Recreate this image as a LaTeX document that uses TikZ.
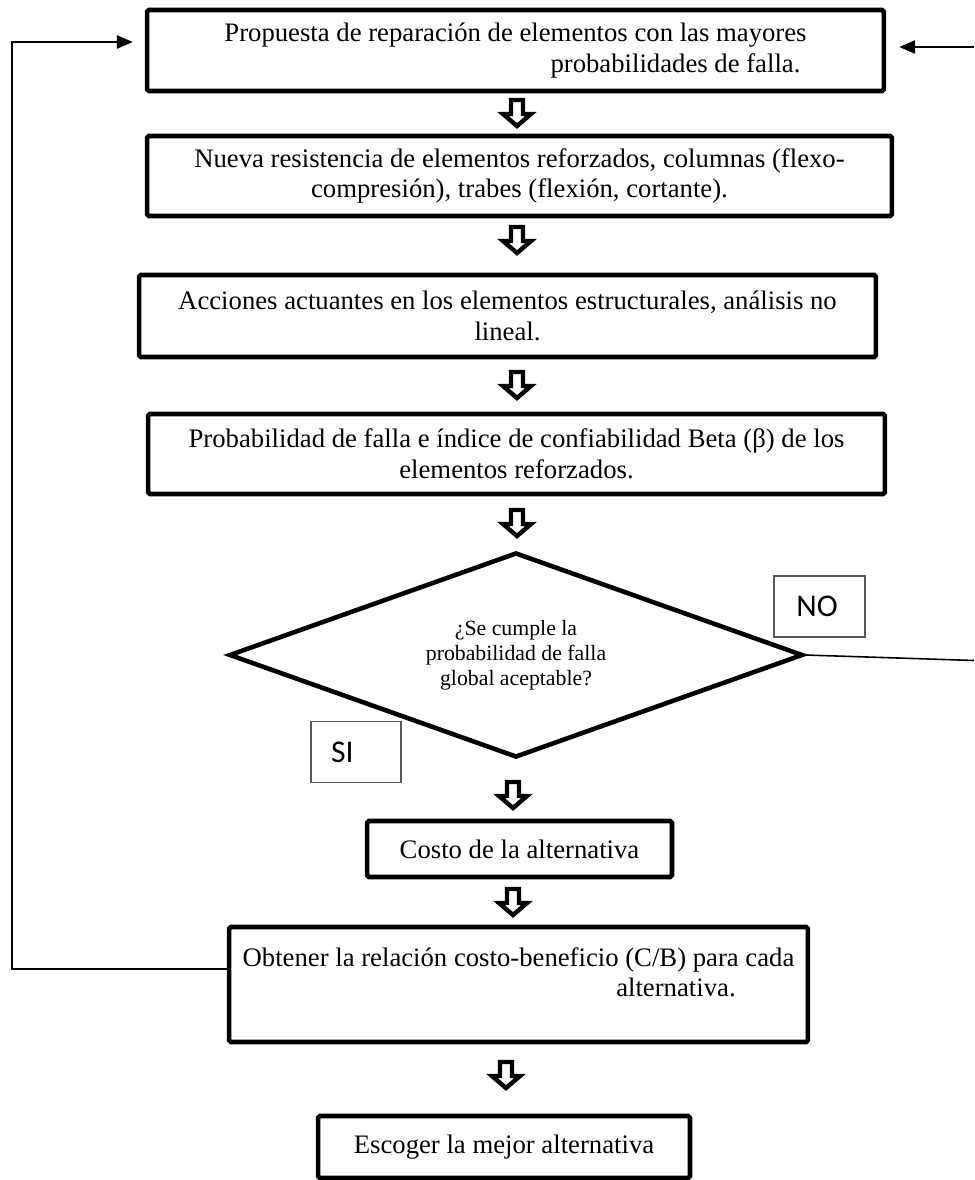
\documentclass[tikz,border=0pt]{standalone}
\usepackage{fontspec}
\setmainfont{Liberation Serif}
\newfontfamily\etiquetafont{Carlito}
\usetikzlibrary{shapes.geometric,arrows.meta}

\begin{document}
\begin{tikzpicture}[x=0.02cm,y=-0.02cm,
  caja/.style={draw,line width=2.6pt,rounded corners=1pt,align=center,inner sep=2pt,
    font=\fontsize{15.2}{17.5}\selectfont},
  rombo/.style={draw,diamond,aspect=2.87,line width=2.6pt,align=center,inner sep=0pt,
    font=\fontsize{12.4}{14.2}\selectfont},
  etiqueta/.style={draw=black!65,line width=0.6pt,font=\etiquetafont\fontsize{18}{20}\selectfont},
  retorno/.style={line width=0.9pt,-{Triangle[length=9pt,width=7.5pt]}},
  flecha/.pic={\draw[line width=2.5pt,fill=white,line join=miter]
    (-6,-13) -- (6,-13) -- (6,1) -- (14,1) -- (0,13) -- (-14,1) -- (-6,1) -- cycle;}]

% Marco de la figura
\useasboundingbox (0,0) rectangle (974,1180);
\clip (0,0) rectangle (974,1180);

% Cajas del proceso
\node[caja,minimum width=14.74cm,minimum height=1.62cm] (prop) at (515.5,50.5)
  {Propuesta de reparación de elementos con las mayores\\ \hspace*{6.4cm}probabilidades de falla.};
\node[caja,minimum width=14.9cm,minimum height=1.6cm] (resis) at (519.5,176)
  {Nueva resistencia de elementos reforzados, columnas (flexo-\\compresión), trabes (flexión, cortante).};
\node[caja,minimum width=14.74cm,minimum height=1.64cm] (acc) at (507.5,316)
  {Acciones actuantes en los elementos estructurales, análisis no\\lineal.};
\node[caja,minimum width=14.74cm,minimum height=1.6cm] (prob) at (516.5,454)
  {Probabilidad de falla e índice de confiabilidad Beta (β) de los\\elementos reforzados.};

% Decision
\node[rombo,minimum width=11.48cm,minimum height=4.1cm] (dec) at (516,655)
  {¿Se cumple la\\probabilidad de falla\\global aceptable?};
\node[etiqueta,minimum width=1.82cm,minimum height=1.22cm] (no) at (819.5,606.5) {NO\hspace*{0.1cm}};
\node[etiqueta,minimum width=1.8cm,minimum height=1.22cm] (si) at (356,752) {SI\hspace*{0.55cm}};

% Cajas finales
\node[caja,minimum width=6.1cm,minimum height=1.12cm] (costo) at (519.5,849)
  {Costo de la alternativa};
\node[caja,minimum width=11.58cm,minimum height=2.3cm,text depth=0.5cm] (cb) at (518.5,984.5)
  {Obtener la relación costo-beneficio (C/B) para cada\\ \hspace*{6.3cm}alternativa.};
\node[caja,minimum width=7.44cm,minimum height=1.24cm] (mejor) at (504,1147)
  {Escoger la mejor alternativa};

% Flechas huecas entre pasos
\pic at (517,113) {flecha};
\pic at (517,240) {flecha};
\pic at (517,385) {flecha};
\pic at (517,523) {flecha};
\pic at (513,795) {flecha};
\pic at (513,902) {flecha};
\pic at (506,1075) {flecha};

% Retorno desde la relacion C/B
\draw[retorno,shorten >=0.24cm] ([yshift=0.31cm]cb.west) -- (12,969) |- ([yshift=0.17cm]prop.west);

% Retorno desde la decision (NO)
\draw[retorno,shorten >=0.26cm] (dec.east) -- (990,661) |- ([yshift=0.07cm]prop.east);

\end{tikzpicture}
\end{document}
